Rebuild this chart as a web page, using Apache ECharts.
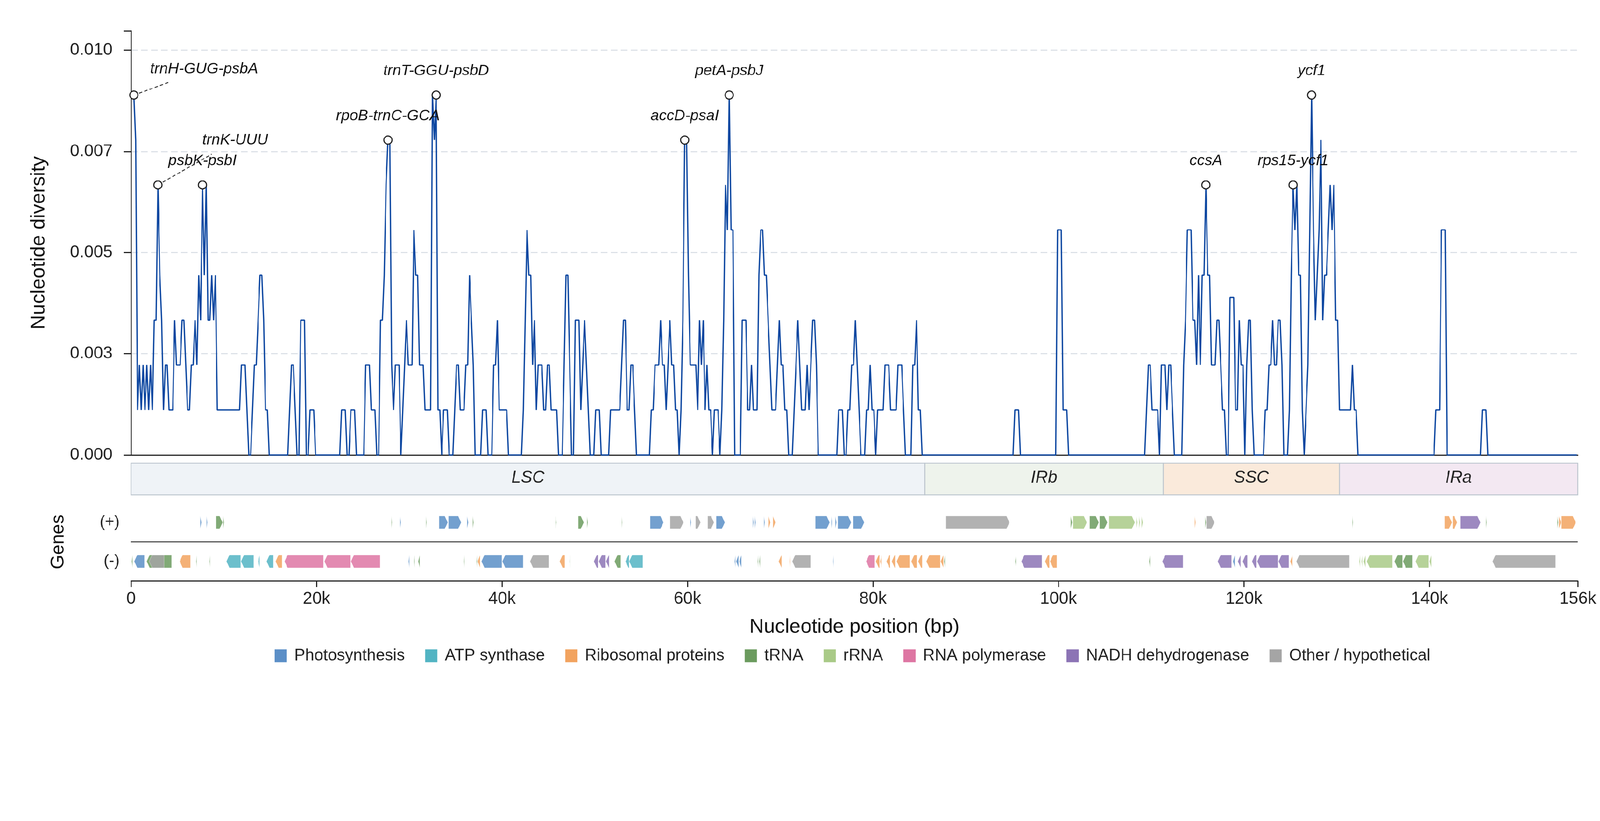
<!DOCTYPE html>
<html><head><meta charset="utf-8">
<script src="https://cdn.jsdelivr.net/npm/echarts@6/dist/echarts.min.js"></script>
<style>html,body{margin:0;padding:0;background:#fff;overflow:hidden}#c{width:4322px;height:2102px;transform-origin:0 0}</style>
</head><body><div id="c"></div>
<script>
const categories = ['Photosynthesis','ATP synthase','Ribosomal proteins','tRNA','rRNA','RNA polymerase','NADH dehydrogenase','Other / hypothetical'];
const categoryColors = ['#5b8fc7','#52b4c3','#f2a35f','#6b9b5e','#a9ca87','#de76a3','#8c74b5','#a5a5a5'];
const regions = [['LSC',0,85600],['IRb',85600,111300],['SSC',111300,130300],['IRa',130300,156000]];
const regionColors = ['#eff3f7','#eef3ec','#faeadb','#f3e8f2'];
const xTickValues = [0,20000,40000,60000,80000,100000,120000,140000,156000];
const xTickLabels = ['0','20k','40k','60k','80k','100k','120k','140k','156k'];
const yTickValues = [0,0.0025,0.005,0.0075,0.01];
const yTickLabels = ['0.000','0.003','0.005','0.007','0.010'];

// sliding-window nucleotide diversity: [position (bp), Pi]
const diversity = [[300,.00889],[500,.00778],[700,.00111],[900,.00222],[1100,.00111],[1300,.00222],[1500,.00111],[1700,.00222],[1900,.00111],[2100,.00222],[2300,.00111],[2500,.00333],[2700,.00333],[2900,.00667],[3100,.00444],[3300,.00333],[3500,.00111],[3700,.00222],[3900,.00222],[4100,.00111],[4500,.00111],[4700,.00333],[4900,.00222],[5300,.00222],[5500,.00333],[5700,.00333],[6100,.00111],[6300,.00111],[6500,.00222],[6700,.00222],[6900,.00333],[7100,.00222],[7300,.00444],[7500,.00333],[7700,.00667],[7900,.00444],[8100,.00667],[8300,.00333],[8500,.00333],[8700,.00444],[8900,.00333],[9100,.00444],[9300,.00111],[11700,.00111],[11900,.00222],[12300,.00222],[12500,.00111],[12700,0],[12900,0],[13100,.00111],[13300,.00222],[13500,.00222],[13700,.00333],[13900,.00444],[14100,.00444],[14300,.00333],[14500,.00111],[14700,.00111],[14900,0],[16900,0],[17100,.00111],[17300,.00222],[17500,.00222],[17900,0],[18100,0],[18300,.00333],[18700,.00333],[18900,0],[19100,0],[19300,.00111],[19700,.00111],[19900,0],[22500,0],[22700,.00111],[23100,.00111],[23300,0],[23500,0],[23700,.00111],[24100,.00111],[24300,0],[25100,0],[25300,.00222],[25700,.00222],[25900,.00111],[26300,.00111],[26500,0],[26700,0],[26900,.00333],[27100,.00333],[27300,.00444],[27500,.00667],[27700,.00778],[27900,.00778],[28100,.00222],[28300,.00111],[28500,.00222],[28900,.00222],[29100,0],[29300,.00111],[29500,.00222],[29700,.00333],[29900,.00222],[30300,.00222],[30500,.00556],[30700,.00444],[30900,.00444],[31100,.00222],[31500,.00222],[31700,.00111],[32300,.00111],[32500,.00889],[32700,.00778],[32900,.00889],[33100,.00111],[33300,.00111],[33500,0],[33700,.00111],[34100,.00111],[34300,0],[34700,0],[34900,.00111],[35100,.00222],[35300,.00222],[35500,.00111],[35900,.00111],[36100,.00222],[36300,.00222],[36500,.00444],[36700,.00333],[36900,.00222],[37100,0],[37700,0],[37900,.00111],[38300,.00111],[38500,0],[38900,0],[39100,.00222],[39300,.00222],[39500,.00333],[39700,.00111],[40500,.00111],[40700,0],[42100,0],[42300,.00111],[42500,.00333],[42700,.00556],[42900,.00444],[43100,.00444],[43300,.00222],[43500,.00333],[43700,.00111],[43900,.00222],[44300,.00222],[44500,.00111],[44700,.00111],[44900,.00222],[45100,.00222],[45300,.00111],[45900,.00111],[46100,0],[46500,0],[46700,.00222],[46900,.00444],[47100,.00444],[47300,.00222],[47500,0],[47700,0],[47900,.00333],[48300,.00333],[48500,.00111],[48700,.00222],[48900,.00333],[49100,.00222],[49300,.00111],[49500,0],[49900,0],[50100,.00111],[50500,.00111],[50700,0],[51500,0],[51700,.00111],[52700,.00111],[52900,.00222],[53100,.00333],[53300,.00333],[53500,.00111],[53700,.00111],[53900,.00222],[54100,.00222],[54300,.00111],[54500,0],[55900,0],[56100,.00111],[56300,.00111],[56500,.00222],[56900,.00222],[57100,.00333],[57300,.00222],[57500,.00222],[57700,.00111],[57900,.00222],[58100,.00333],[58300,.00222],[58500,.00222],[58700,.00111],[58900,.00111],[59100,0],[59300,.00111],[59500,.00333],[59700,.00778],[59900,.00778],[60100,.00444],[60300,.00222],[60900,.00222],[61100,.00111],[61300,.00333],[61500,.00222],[61700,.00333],[61900,.00111],[62100,.00222],[62300,.00111],[62500,.00111],[62700,0],[62900,.00111],[63300,.00111],[63500,0],[63700,.00111],[63900,.00333],[64100,.00667],[64300,.00556],[64500,.00889],[64700,.00556],[64900,.00556],[65100,0],[65700,0],[65900,.00333],[66300,.00333],[66500,.00111],[66700,.00111],[66900,.00222],[67100,.00111],[67500,.00111],[67700,.00444],[67900,.00556],[68100,.00556],[68300,.00444],[68500,.00444],[68700,.00333],[68900,.00222],[69100,.00111],[69500,.00111],[69700,.00222],[69900,.00333],[70100,.00222],[70300,.00222],[70500,.00111],[70700,.00111],[70900,0],[71300,0],[71500,.00111],[71700,.00222],[71900,.00333],[72100,.00222],[72300,.00111],[72700,.00111],[72900,.00222],[73100,.00111],[73300,.00222],[73500,.00333],[73700,.00333],[73900,.00222],[74100,0],[76100,0],[76300,.00111],[76700,.00111],[76900,0],[77100,0],[77300,.00111],[77500,.00111],[77700,.00222],[77900,.00222],[78100,.00333],[78300,.00222],[78500,.00111],[78700,0],[79100,0],[79300,.00111],[79500,.00111],[79700,.00222],[79900,.00111],[80100,.00111],[80300,0],[80500,.00111],[81100,.00111],[81300,.00222],[81700,.00222],[81900,.00111],[82500,.00111],[82700,.00222],[83100,.00222],[83300,.00111],[83500,0],[84100,0],[84300,.00222],[84500,.00222],[84700,.00333],[84900,.00111],[85100,.00111],[85300,0],[95100,0],[95300,.00111],[95700,.00111],[95900,0],[99700,0],[99900,.00556],[100300,.00556],[100500,.00111],[100900,.00111],[101100,0],[109300,0],[109500,.00111],[109700,.00222],[109900,.00222],[110100,.00111],[110700,.00111],[110900,0],[111100,.00222],[111500,.00222],[111700,.00111],[111900,.00222],[112100,.00222],[112300,.00111],[112500,0],[113300,0],[113500,.00222],[113700,.00333],[113900,.00556],[114300,.00556],[114500,.00333],[114700,.00333],[114900,.00222],[115100,.00444],[115300,.00222],[115500,.00444],[115700,.00444],[115900,.00667],[116100,.00444],[116300,.00444],[116500,.00222],[116900,.00222],[117100,.00333],[117300,.00333],[117500,.00222],[117700,.00111],[117900,.00111],[118100,0],[118300,0],[118500,.00389],[118900,.00389],[119100,.00111],[119300,.00111],[119500,.00333],[119700,.00222],[119900,.00222],[120100,0],[120300,.00222],[120500,.00333],[120700,.00333],[120900,.00111],[121100,0],[122100,0],[122300,.00111],[122500,.00111],[122700,.00222],[122900,.00222],[123100,.00333],[123300,.00222],[123500,.00222],[123700,.00333],[123900,.00333],[124100,.00222],[124300,0],[124700,0],[124900,.00111],[125100,.00444],[125300,.00667],[125500,.00556],[125700,.00667],[125900,.00444],[126100,.00444],[126300,.00111],[126500,0],[126700,.00111],[126900,.00222],[127100,.00556],[127300,.00889],[127500,.00556],[127700,.00333],[127900,.00444],[128100,.00556],[128300,.00778],[128500,.00333],[128700,.00444],[128900,.00444],[129100,.00556],[129300,.00667],[129500,.00556],[129700,.00667],[129900,.00333],[130100,.00333],[130300,.00111],[131500,.00111],[131700,.00222],[131900,.00111],[132100,.00111],[132300,0],[140500,0],[140700,.00111],[141100,.00111],[141300,.00556],[141700,.00556],[141900,0],[145500,0],[145700,.00111],[146100,.00111],[146300,0],[155900,0]];

// highlighted hotspots: [label, position (bp), Pi]
const peaks = [['trnH-GUG-psbA',300,.00889],['trnK-UUU',2900,.00667],['psbK-psbI',7700,.00667],['rpoB-trnC-GCA',27700,.00778],['trnT-GGU-psbD',32900,.00889],['accD-psaI',59700,.00778],['petA-psbJ',64500,.00889],['ccsA',115900,.00667],['rps15-ycf1',125300,.00667],['ycf1',127300,.00889]];
// displaced labels: label anchor (left edge) and leader-line end, in data units
const labelAnchors = {'trnH-GUG-psbA':[2060,.00953],'trnK-UUU':[7680,.00778]};
const leaderEnds = {'trnH-GUG-psbA':[4020,.0092],'trnK-UUU':[8700,.00743]};

// genes: [start, end, category index]
const genesPlus = [[7450,7590,0],[8130,8230,0],[9170,9870,3],[9940,10040,3],[28070,28140,3],[29010,29110,0],[31800,31870,3],[33210,34150,0],[34220,35600,0],[36230,36370,0],[36840,36940,3],[45770,45870,3],[48220,48820,3],[49160,49260,3],[52910,52970,3],[55970,57410,0],[58120,59560,7],[60300,60400,0],[60870,61410,7],[62180,62860,7],[63090,64030,0],[67030,67130,0],[67260,67360,0],[68240,68340,0],[68740,68940,2],[69210,69480,2],[73780,75330,0],[75500,75600,0],[75930,76070,0],[76200,77650,0],[77850,79060,0],[87870,94720,7],[101310,101480,3],[101580,103060,4],[103360,104350,3],[104430,105270,3],[105450,108240,4],[108410,108520,4],[108690,108800,4],[108950,109100,4],[114690,114800,2],[115810,115920,3],[115950,116820,7],[131690,131760,3],[141640,142440,2],[142510,143000,2],[143320,145510,6],[146100,146180,3],[153790,153890,3],[153960,154200,2],[154240,155780,2]];
const genesMinus = [[70,170,3],[340,1440,0],[1680,4370,3],[1950,3560,7],[5240,6410,2],[7020,7090,3],[8460,8530,3],[10280,11820,1],[11850,13230,1],[13700,13870,1],[14610,15350,1],[15580,16290,2],[16550,20750,5],[20850,23670,5],[23710,26860,5],[29920,30020,0],[30520,30590,3],[30960,31130,3],[35900,35960,3],[37240,37310,3],[37370,37640,2],[37780,39990,0],[40030,42280,0],[43020,45060,7],[46210,46780,2],[47280,47350,3],[49900,50370,6],[50440,51140,6],[51210,51550,6],[52130,52810,3],[53310,53710,1],[53710,55190,1],[65080,65180,0],[65240,65510,0],[65580,65820,0],[67560,67630,3],[67730,67830,3],[69820,70150,2],[71030,71090,2],[71290,73310,7],[75700,75760,0],[79260,80200,5],[80300,80710,2],[80770,80940,2],[81450,81850,2],[82020,82390,2],[82550,83970,2],[84130,84770,2],[84870,85310,2],[85750,87260,2],[87290,87600,2],[87660,87760,3],[95330,95430,3],[96000,98220,6],[98550,99030,2],[99090,99830,2],[109770,109880,3],[111200,113440,6],[117170,118670,6],[118810,119020,0],[119340,119650,6],[119860,120380,6],[120870,121330,6],[121430,123700,6],[123730,124850,6],[124990,125240,2],[125650,131380,7],[132430,132530,4],[132670,132770,4],[132910,133120,4],[133230,136020,4],[136230,137100,3],[137140,138150,3],[138500,139930,4],[140000,140210,4],[146810,153610,7]];

const F = '"Liberation Sans", Arial, sans-serif';
const GENOME = 156000;
const W = 4322, H = 2102;
const dom = document.getElementById('c');
const fit = Math.min(window.innerWidth / W, window.innerHeight / H);
if (Math.abs(fit - 1) > 0.001) dom.style.transform = 'scale(' + fit + ')';
const chart = echarts.init(dom, null, {width:W, height:H});

function geneRender(color){
  return function(params, api){
    const x1 = api.coord([api.value(0), 0])[0];
    const x2 = api.coord([api.value(1), 0])[0];
    const plus = api.value(2) === 1;
    const yc = api.coord([0, plus ? 1.5 : 0.5])[1];
    const hh = api.size([0, 0.333])[1] / 2;
    const head = Math.min(8, x2 - x1);
    const pts = plus
      ? [[x1,yc-hh],[x2-head,yc-hh],[x2,yc],[x2-head,yc+hh],[x1,yc+hh]]
      : [[x2,yc-hh],[x1+head,yc-hh],[x1,yc],[x1+head,yc+hh],[x2,yc+hh]];
    return {type:'polygon', shape:{points:pts}, style:{fill:color, opacity:0.85, stroke:'rgba(255,255,255,0.6)', lineWidth:1}};
  };
}

const geneSeries = categories.map((name, ci) => ({
  type:'custom', name, xAxisIndex:2, yAxisIndex:2, silent:true,
  itemStyle:{color:categoryColors[ci]},
  data: genesPlus.filter(g => g[2] === ci).map(g => [g[0], g[1], 1])
        .concat(genesMinus.filter(g => g[2] === ci).map(g => [g[0], g[1], 0])),
  renderItem: geneRender(categoryColors[ci]),
  z: 3
}));

const gridLineColor = '#d6dce3';
const anchored = peaks.filter(p => labelAnchors[p[0]]);

const option = {
  backgroundColor:'#ffffff',
  animation:false,
  grid:[
    {left:354, right:60, top:83, height:1146},
    {left:354, right:60, top:1251, height:86},
    {left:354, right:60, top:1359, height:210}
  ],
  xAxis:[
    {gridIndex:0, type:'value', min:0, max:GENOME, interval:20000,
     axisLine:{show:true, onZero:false, lineStyle:{color:'#222', width:3}}, axisTick:{show:false}, axisLabel:{show:false}, splitLine:{show:false}},
    {gridIndex:1, type:'value', min:0, max:GENOME, show:false},
    {gridIndex:2, type:'value', min:0, max:GENOME, interval:20000,
     axisLine:{show:true, onZero:false, lineStyle:{color:'#222', width:3}},
     axisTick:{show:true, length:17, lineStyle:{color:'#222', width:3}},
     axisLabel:{margin:26, fontSize:46, color:'#222', fontFamily:F,
       formatter: v => { const i = xTickValues.indexOf(v); return i >= 0 ? xTickLabels[i] : ''; }},
     splitLine:{show:false},
     name:'Nucleotide position (bp)', nameLocation:'middle', nameGap:98,
     nameTextStyle:{fontSize:54, color:'#111', fontFamily:F}}
  ],
  yAxis:[
    {gridIndex:0, type:'value', min:0, max:0.01048, interval:0.0025,
     axisLine:{show:true, lineStyle:{color:'#222', width:3}},
     axisTick:{show:true, length:20, lineStyle:{color:'#222', width:3}},
     axisLabel:{margin:50, fontSize:46, color:'#222', fontFamily:F,
       formatter: v => { for (let i = 0; i < yTickValues.length; i++) if (Math.abs(v - yTickValues[i]) < 1e-9) return yTickLabels[i]; return ''; }},
     splitLine:{show:true, showMinLine:false, showMaxLine:false, lineStyle:{color:gridLineColor, width:2.5, type:[18,9]}},
     name:'Nucleotide diversity', nameLocation:'middle', nameGap:222, nameRotate:90,
     nameTextStyle:{fontSize:54, color:'#111', fontFamily:F}},
    {gridIndex:1, type:'value', min:0, max:1, show:false},
    {gridIndex:2, type:'value', min:0, max:2, interval:0.5,
     axisLine:{show:false}, axisTick:{show:false}, splitLine:{show:false},
     axisLabel:{margin:31, fontSize:43, color:'#222', fontFamily:F,
       formatter: v => v === 0.5 ? '(-)' : (v === 1.5 ? '(+)' : '')},
     name:'Genes', nameLocation:'middle', nameGap:171, nameRotate:90,
     nameTextStyle:{fontSize:50, color:'#111', fontFamily:F}}
  ],
  legend:{
    left:737, top:1745, itemWidth:33, itemHeight:35, itemGap:55, icon:'rect', selectedMode:false,
    textStyle:{fontSize:44, color:'#222', fontFamily:F, padding:[0,0,0,15]},
    data: categories.map((c, i) => ({name:c, icon:'rect', itemStyle:{color:categoryColors[i], opacity:1}}))
  },
  series:[
    {type:'custom', xAxisIndex:1, yAxisIndex:1, silent:true,
     data: regions.map((r, i) => [r[1], r[2], i]),
     renderItem:(params, api) => {
       const s = api.coord([api.value(0), 1]);
       const e = api.coord([api.value(1), 0]);
       const i = api.value(2);
       return {type:'group', children:[
         {type:'rect', shape:{x:s[0], y:s[1], width:e[0]-s[0], height:e[1]-s[1]},
          style:{fill:regionColors[i], stroke:'#bcc5ce', lineWidth:2.5}},
         {type:'text', style:{text:regions[i][0], x:(s[0]+e[0])/2, y:(s[1]+e[1])/2 - 3,
          align:'center', verticalAlign:'middle', fontStyle:'italic', fontSize:46, fontFamily:F, fill:'#222'}}
       ]};
     }},
    {type:'line', xAxisIndex:2, yAxisIndex:2, silent:true, symbol:'none',
     data:[[0,1],[GENOME,1]], lineStyle:{color:'#333', width:3}, z:4},
    ...geneSeries,
    {type:'line', name:'diversity', xAxisIndex:0, yAxisIndex:0, data:diversity,
     symbol:'none', showSymbol:false, silent:true,
     lineStyle:{color:'#0d47a1', width:3.5}, itemStyle:{color:'#0d47a1'}, z:2},
    {type:'lines', coordinateSystem:'cartesian2d', xAxisIndex:0, yAxisIndex:0, silent:true,
     data: anchored.map(p => ({coords:[[p[1], p[2]], leaderEnds[p[0]]]})),
     lineStyle:{color:'#333', width:2.5, type:[9,6], opacity:1}, z:3},
    {type:'scatter', xAxisIndex:0, yAxisIndex:0, silent:true,
     data: peaks.map(p => ({name:p[0], value:[p[1], p[2]], label:{show: !labelAnchors[p[0]]}})),
     symbol:'circle', symbolSize:22,
     itemStyle:{color:'#ffffff', borderColor:'#222', borderWidth:3, opacity:1},
     label:{show:true, position:'top', distance:32, formatter:'{b}',
       fontStyle:'italic', fontSize:41, color:'#111', fontFamily:F},
     z:5},
    {type:'custom', xAxisIndex:0, yAxisIndex:0, silent:true, z:6,
     data: anchored.map(p => labelAnchors[p[0]].concat([peaks.indexOf(p)])),
     renderItem:(params, api) => {
       const pt = api.coord([api.value(0), api.value(1)]);
       return {type:'text', style:{text:peaks[api.value(2)][0], x:pt[0], y:pt[1],
         align:'left', verticalAlign:'middle', fontStyle:'italic', fontSize:41, fontFamily:F, fill:'#111'}};
     }}
  ]
};
chart.setOption(option);
</script>
</body></html>
